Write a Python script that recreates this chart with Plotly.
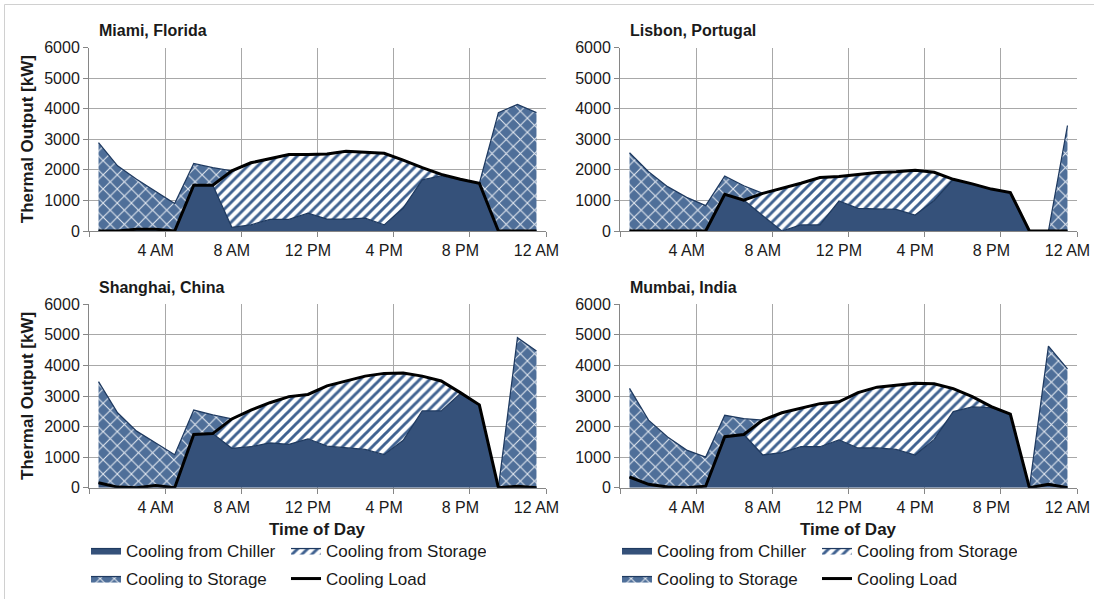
import plotly.graph_objects as go

# Hourly cooling dispatch (kW) for four cities, hour-ending 1 AM .. 12 AM
hours = list(range(1, 25))
tick_hours = [4, 8, 12, 16, 20, 24]
tick_text = ["4 AM", "8 AM", "12 PM", "4 PM", "8 PM", "12 AM"]

cities = ["Miami, Florida", "Lisbon, Portugal", "Shanghai, China", "Mumbai, India"]

miami_chiller = [0, 0, 60, 60, 0, 1500, 1500, 120, 200, 380, 380, 580, 390, 390, 420, 200,
                 750, 1670, 1800, 1690, 1560, 0, 0, 0]
miami_storage = [0, 0, 0, 0, 0, 0, 0, 1850, 2030, 1990, 2120, 1920, 2130, 2220, 2160, 2340,
                 1570, 400, 50, 0, 0, 0, 0, 0]
miami_to_storage = [2890, 2130, 1630, 1230, 900, 710, 570, 0, 0, 0, 0, 0, 0, 0, 0, 0,
                    0, 0, 0, 0, 0, 3870, 4140, 3870]
miami_load = [0, 0, 60, 60, 0, 1500, 1500, 1970, 2230, 2370, 2500, 2500, 2520, 2610, 2580, 2540,
              2320, 2070, 1850, 1690, 1560, 0, 0, 0]

lisbon_chiller = [0, 0, 0, 0, 0, 1200, 1010, 500, 0, 200, 200, 980, 740, 720, 710, 520,
                  1000, 1690, 1540, 1370, 1260, 0, 0, 0]
lisbon_storage = [0, 0, 0, 0, 0, 0, 0, 730, 1390, 1360, 1550, 800, 1110, 1190, 1230, 1470,
                  920, 0, 0, 0, 0, 0, 0, 0]
lisbon_to_storage = [2560, 1940, 1450, 1100, 830, 600, 470, 0, 0, 0, 0, 0, 0, 0, 0, 0,
                     0, 0, 0, 0, 0, 0, 0, 3450]
lisbon_load = [0, 0, 0, 0, 0, 1200, 1010, 1230, 1390, 1560, 1750, 1780, 1850, 1910, 1940, 1990,
               1920, 1690, 1540, 1370, 1260, 0, 0, 0]

shanghai_chiller = [160, 20, 0, 70, 0, 1740, 1770, 1290, 1340, 1470, 1420, 1600, 1360, 1310, 1250, 1080,
                    1550, 2510, 2510, 3080, 2710, 0, 50, 0]
shanghai_storage = [0, 0, 0, 0, 0, 0, 0, 960, 1200, 1310, 1560, 1450, 1970, 2180, 2400, 2660,
                    2200, 1140, 980, 30, 0, 0, 0, 0]
shanghai_to_storage = [3310, 2430, 1850, 1400, 1080, 800, 610, 0, 0, 0, 0, 0, 0, 0, 0, 0,
                       0, 0, 0, 0, 0, 0, 4860, 4470]
shanghai_load = [160, 20, 0, 70, 0, 1740, 1770, 2250, 2540, 2780, 2980, 3050, 3330, 3490, 3650, 3740,
                 3750, 3650, 3490, 3110, 2710, 0, 50, 0]

mumbai_chiller = [350, 110, 20, 0, 50, 1670, 1740, 1070, 1150, 1340, 1340, 1560, 1300, 1300, 1250, 1070,
                  1580, 2490, 2640, 2620, 2410, 0, 110, 0]
mumbai_storage = [0, 0, 0, 0, 0, 0, 0, 1140, 1300, 1270, 1410, 1250, 1810, 1990, 2110, 2350,
                  1820, 750, 340, 30, 0, 0, 0, 0]
mumbai_to_storage = [2900, 2100, 1640, 1230, 950, 700, 520, 0, 0, 0, 0, 0, 0, 0, 0, 0,
                     0, 0, 0, 0, 0, 0, 4520, 3890]
mumbai_load = [350, 110, 20, 0, 50, 1670, 1740, 2210, 2450, 2610, 2750, 2810, 3110, 3290, 3360, 3420,
               3400, 3240, 2980, 2650, 2410, 0, 110, 0]

series = {
    "Miami, Florida": (miami_chiller, miami_storage, miami_to_storage, miami_load),
    "Lisbon, Portugal": (lisbon_chiller, lisbon_storage, lisbon_to_storage, lisbon_load),
    "Shanghai, China": (shanghai_chiller, shanghai_storage, shanghai_to_storage, shanghai_load),
    "Mumbai, India": (mumbai_chiller, mumbai_storage, mumbai_to_storage, mumbai_load),
}

W, H = 1094, 599
FONT = "Liberation Sans, Arial, sans-serif"
NAVY = "#35517A"
EDGE = "#1F3A60"
HATCH_BLUE = "#3F6190"
CROSS_BG = "#4F6F99"
CROSS_FG = "#E2E8F0"
GRID = "#A8A8A8"
AXIS = "#868686"
TEXT = "#1A1A1A"


def fx(px):
    return px / W


def fy(py):
    return 1 - py / H


# plot-area boxes in pixels: left, right, top, bottom
panels = [
    (89, 546, 47.5, 231.0),
    (620, 1077, 47.5, 231.0),
    (89, 546, 304.3, 487.7),
    (620, 1077, 304.3, 487.7),
]

fig = go.Figure()
layout = dict(
    template="none",
    width=W, height=H,
    margin=dict(l=0, r=0, t=0, b=0, pad=0, autoexpand=False),
    paper_bgcolor="white", plot_bgcolor="white",
    font=dict(family=FONT, size=16, color=TEXT),
    annotations=[], shapes=[],
)

# legends under the two bottom panels (two rows each)
legend_names = {2: ("legend", "legend2"), 3: ("legend3", "legend4")}

for i, city in enumerate(cities):
    chiller, storage, to_storage, load = series[city]
    n = "" if i == 0 else str(i + 1)
    xa, ya = "x" + n, "y" + n
    left, right, top, bottom = panels[i]
    leg = legend_names.get(i)
    show = leg is not None
    common = dict(x=hours, xaxis=xa, yaxis=ya, mode="lines", stackgroup="s" + str(i))

    fig.add_trace(go.Scatter(y=chiller, name="Cooling from Chiller", **common,
                             line=dict(color=EDGE, width=1.25), fillcolor=NAVY,
                             showlegend=show, legend=leg[0] if show else None))
    fig.add_trace(go.Scatter(y=storage, name="Cooling from Storage", **common,
                             line=dict(color=EDGE, width=1.25),
                             fillpattern=dict(shape="/", bgcolor="white", fgcolor=HATCH_BLUE,
                                              size=7, solidity=0.42),
                             showlegend=show, legend=leg[0] if show else None))
    fig.add_trace(go.Scatter(y=to_storage, name="Cooling to Storage", **common,
                             line=dict(color=EDGE, width=1.25),
                             fillpattern=dict(shape="x", bgcolor=CROSS_BG, fgcolor=CROSS_FG,
                                              size=10, solidity=0.2),
                             showlegend=show, legend=leg[1] if show else None))
    fig.add_trace(go.Scatter(x=hours, y=load, xaxis=xa, yaxis=ya, mode="lines",
                             name="Cooling Load", line=dict(color="black", width=3),
                             showlegend=show, legend=leg[1] if show else None))

    layout["xaxis" + n] = dict(
        domain=[fx(left), fx(right)], anchor=ya, range=[0.5, 24.5], automargin=False,
        tickmode="array", tickvals=tick_hours, ticktext=tick_text,
        ticks="", showgrid=False, zeroline=False,
        showline=True, linecolor=AXIS, linewidth=1,
        tickfont=dict(size=16, color=TEXT), ticklabelstandoff=5,
        minor=dict(tickmode="array", tickvals=[0.5 + 4 * k for k in range(7)],
                   ticks="outside", ticklen=5, tickcolor=AXIS,
                   showgrid=True, gridcolor=GRID, gridwidth=1),
    )
    layout["yaxis" + n] = dict(
        domain=[fy(bottom), fy(top)], anchor=xa, range=[0, 6000], automargin=False,
        tickmode="linear", tick0=0, dtick=1000, tickformat="d",
        ticks="outside", ticklen=5, tickcolor=AXIS,
        showgrid=True, gridcolor=GRID, gridwidth=1, zeroline=False,
        showline=True, linecolor=AXIS, linewidth=1,
        tickfont=dict(size=16, color=TEXT),
    )

    layout["annotations"].append(dict(
        text="<b>" + city + "</b>", xref="paper", yref="paper",
        x=fx(left + 8), y=fy(top - 17), xanchor="left", yanchor="middle",
        showarrow=False, font=dict(size=16, color=TEXT)))
    if i in (0, 2):
        layout["annotations"].append(dict(
            text="<b>Thermal Output [kW]</b>", xref="paper", yref="paper",
            x=fx(27), y=fy((top + bottom) / 2), xanchor="center", yanchor="middle",
            textangle=-90, showarrow=False, font=dict(size=17, color=TEXT)))
    if i in (2, 3):
        layout["annotations"].append(dict(
            text="<b>Time of Day</b>", xref="paper", yref="paper",
            x=fx((left + right) / 2), y=fy(529), xanchor="center", yanchor="middle",
            showarrow=False, font=dict(size=17, color=TEXT)))

for i, (name_a, name_b) in legend_names.items():
    left = panels[i][0]
    for name, row_y in ((name_a, 551), (name_b, 579)):
        layout[name] = dict(
            orientation="h", x=fx(left - 3), y=fy(row_y), xanchor="left", yanchor="middle",
            traceorder="normal", bgcolor="rgba(0,0,0,0)", borderwidth=0,
            entrywidthmode="pixels", entrywidth=155,
            font=dict(size=17, color=TEXT, family=FONT),
        )

# thin outer frame of the figure
layout["shapes"].append(dict(
    type="rect", xref="paper", yref="paper",
    x0=fx(4.5), x1=fx(1110), y0=fy(610), y1=fy(4.5),
    line=dict(color="#D0D0D0", width=1), fillcolor="rgba(0,0,0,0)", layer="below"))

fig.update_layout(**layout)
fig.write_html("out.html")
